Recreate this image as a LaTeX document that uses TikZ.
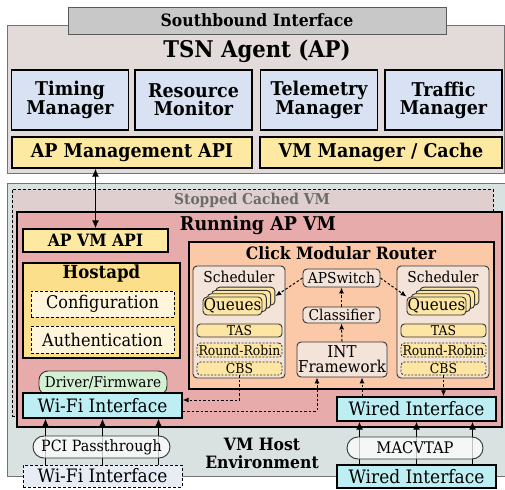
\documentclass[tikz,border=0pt]{standalone}
\usepackage{fontspec}
\setmainfont[FakeStretch=0.92]{DejaVu Serif}
\usetikzlibrary{positioning}
\usetikzlibrary{arrows.meta}
\usetikzlibrary{calc}

\definecolor{agentbg}{HTML}{E3DADA}
\definecolor{southgray}{HTML}{C8C8C8}
\definecolor{mgrblue}{HTML}{D8E2F3}
\definecolor{apiyellow}{HTML}{FDE9A2}
\definecolor{hostbg}{HTML}{DAE1E1}
\definecolor{stoppedbg}{HTML}{E0CFCF}
\definecolor{runningbg}{HTML}{E7ABAB}
\definecolor{hostapdyellow}{HTML}{FCDF8A}
\definecolor{configbg}{HTML}{FEF5DA}
\definecolor{clickbg}{HTML}{FBC9A8}
\definecolor{schedbg}{HTML}{F4E3D9}
\definecolor{queueyellow}{HTML}{FDE6A3}
\definecolor{ifcyan}{HTML}{BDEEF3}
\definecolor{drvgreen}{HTML}{D4F0D4}
\definecolor{wifihwbg}{HTML}{E8ECF4}

\newcommand{\pts}[2]{\fontsize{#1}{#2}\selectfont}

\tikzset{
  every node/.style={inner sep=0pt, align=center},
  box/.style={draw, line width=1.3pt},
  frame/.style={draw=black!55, line width=0.9pt},
  soft/.style={draw=black!80, line width=0.9pt, rounded corners=4pt},
  pill/.style={soft, rounded corners=9pt},
  dashbox/.style={draw, line width=1pt, dash pattern=on 3pt off 2pt},
  mgr/.style={box, fill=mgrblue, minimum width=117, minimum height=60,
              font=\bfseries\pts{19}{18}},
  api/.style={box, fill=apiyellow, minimum height=31, font=\bfseries\pts{19}{19}},
  iface/.style={box, fill=ifcyan, minimum width=159, font=\pts{18.5}{18}},
  queue/.style={soft, fill=queueyellow, minimum width=59, minimum height=18,
                font=\pts{16.5}{16}},
  sched/.style={soft, rounded corners=3.5pt, fill=queueyellow, minimum width=85,
                font=\pts{13.5}{13}},
  elem/.style={soft, fill=schedbg, minimum width=77, font=\pts{15}{15}},
  up/.style={line width=1.3pt, -{Latex[length=8pt,width=7pt]}},
  flow/.style={line width=1pt, dash pattern=on 2.5pt off 2pt,
               -{Latex[length=6pt,width=5pt]}},
}

\begin{document}
\begin{tikzpicture}[x=1pt,y=-1pt]
\useasboundingbox (0,0) rectangle (505,489);

% TSN agent running on the AP
\node[frame, fill=agentbg, minimum width=497, minimum height=148] (agent) at (255.5,99) {};
\node[draw=black!65, line width=0.9pt, fill=southgray, minimum width=378, minimum height=27,
      font=\bfseries\pts{17}{17}] (south) at (257,20.5) {Southbound Interface};
\node[font=\bfseries\pts{23}{23}] (agenttitle) at (257,51) {TSN Agent (AP)};

\node[mgr] (timing)    at (70,100)    {Timing\\Manager};
\node[mgr] (resource)  at (193.5,100) {Resource\\Monitor};
\node[mgr] (telemetry) at (319,100)   {Telemetry\\Manager};
\node[mgr] (traffic)   at (443.5,100) {Traffic\\Manager};

\node[api, minimum width=240] (apmgmt) at (132,152.5) {AP Management API};
\node[api, minimum width=242] (vmmgr)  at (381,152.5) {VM Manager / Cache};

% host, cached VM and running VM
\node[frame, fill=hostbg, minimum width=499, minimum height=293] (host) at (256.5,329.5) {};
\node[dashbox, fill=stoppedbg, minimum width=481, minimum height=227] (stopped) at (252.5,302.5) {};
\node[text=black!58, font=\bfseries\pts{15}{15}] (stoppedtitle) at (252,200) {Stopped Cached VM};
\node[box, fill=runningbg, minimum width=485, minimum height=215] (running) at (259.5,319.5) {};
\node[font=\bfseries\pts{19}{19}] (runningtitle) at (258,225) {Running AP VM};

\node[api, minimum width=145, minimum height=23, font=\bfseries\pts{17}{17}] (apvmapi) at (95.5,240.5) {AP VM API};
\draw[line width=1.3pt, {Latex[length=8pt,width=7pt]}-{Latex[length=8pt,width=7pt]}]
  (apvmapi.north |- apmgmt.south) -- (apvmapi.north);

% hostapd
\node[box, fill=hostapdyellow, minimum width=157, minimum height=95] (hostapd) at (101.5,310.5) {};
\node[font=\bfseries\pts{18}{18}] (hostapdtitle) at (101.5,274) {Hostapd};
\node[dashbox, fill=configbg, minimum width=143, minimum height=26, font=\pts{17.5}{17}] (config) at (102.5,304) {Configuration};
\node[dashbox, fill=configbg, minimum width=143, minimum height=27, font=\pts{17.5}{17}] (auth) at (102.5,339.5) {Authentication};

% click modular router
\node[box, fill=clickbg, minimum width=305, minimum height=147] (click) at (341.5,315.5) {};
\node[font=\bfseries\pts{17}{17}] (clicktitle) at (341,253) {Click Modular Router};

\node[soft, fill=schedbg, minimum width=92, minimum height=112] (schedL) at (239,322) {};
\node[font=\pts{15}{15}] (schedLtitle) at (239,277) {Scheduler};
\foreach \k in {3,2,1} {
  \node[queue] (qL\k) at ({232.5+4.3*\k},{306-3.3*\k}) {};
}
\node[queue] (qL) at (232.5,306) {Queues};
\node[sched, minimum height=13] (tasL) at (239.5,330.5) {TAS};
\node[sched, dash pattern=on 2pt off 1.5pt, minimum height=14] (rrL) at (239.5,350) {Round-Robin};
\node[sched, dash pattern=on 2pt off 1.5pt, minimum height=13] (cbsL) at (239.5,368.5) {CBS};

\node[soft, fill=schedbg, minimum width=92, minimum height=112] (schedR) at (443,322) {};
\node[font=\pts{15}{15}] (schedRtitle) at (443,277) {Scheduler};
\foreach \k in {3,2,1} {
  \node[queue] (qR\k) at ({436.5+4.3*\k},{306-3.3*\k}) {};
}
\node[queue] (qR) at (436.5,306) {Queues};
\node[sched, minimum height=13] (tasR) at (443.5,330.5) {TAS};
\node[sched, dash pattern=on 2pt off 1.5pt, minimum height=14] (rrR) at (443.5,350) {Round-Robin};
\node[sched, dash pattern=on 2pt off 1.5pt, minimum height=13] (cbsR) at (443.5,368.5) {CBS};

\node[elem, minimum height=18] (apswitch) at (341.5,278) {APSwitch};
\node[elem, minimum height=16] (classifier) at (341.5,315) {Classifier};
\node[elem, minimum width=90, minimum height=35, font=\pts{16.3}{15}] (int) at (342,359.5) {INT\\Framework};

% interfaces inside the VM
\node[pill, fill=drvgreen, minimum width=128, minimum height=24, font=\pts{14.8}{14}] (driver) at (103,383) {Driver/Firmware};
\node[iface, minimum height=25] (wifivm) at (102.5,405.5) {Wi-Fi Interface};
\node[iface, minimum height=24] (wiredvm) at (416.5,409) {Wired Interface};

% data paths
\draw[flow] (int.north) -- (classifier.south);
\draw[flow] (classifier.north) -- (apswitch.south);
\draw[flow] (apswitch.west) -- (qL3.east);
\draw[flow] (apswitch.east) -- (qR.north west);
\draw[flow] (cbsL.south) |- ([yshift=5.5pt]wifivm.east);
\draw[flow] ([yshift=-5.5pt]wifivm.east) -| ([xshift=-25pt]int.south);
\draw[flow] ([xshift=-54.5pt]wiredvm.north) -- ([xshift=-54.5pt]wiredvm.north |- int.south);
\draw[flow] (cbsR.south) -- (cbsR.south |- wiredvm.north);

% physical interfaces on the host
\node[dashbox, fill=wifihwbg, minimum width=159, minimum height=22, font=\pts{18.5}{18}] (wifihw) at (102.5,476) {Wi-Fi Interface};
\node[iface, minimum height=23] (wiredhw) at (416.5,476.5) {Wired Interface};
\foreach \dx in {-57,0,56} {
  \draw[up] ([xshift=\dx pt]wifihw.north) -- ([xshift=\dx pt]wifihw.north |- wifivm.south);
  \draw[up] ([xshift=\dx pt]wiredhw.north) -- ([xshift=\dx pt]wiredhw.north |- wiredvm.south);
}
\node[pill, rounded corners=11pt, fill=white, fill opacity=0.75, text opacity=1,
      minimum width=137, minimum height=22, font=\pts{15.5}{15}] (pci) at (101.5,447) {PCI Passthrough};
\node[pill, rounded corners=11pt, fill=white, fill opacity=0.75, text opacity=1,
      minimum width=136, minimum height=22, font=\pts{16}{16}] (macvtap) at (415,448) {MACVTAP};
\node[font=\bfseries\pts{17}{18}] (hosttitle) at (262,453) {VM Host\\Environment};

\end{tikzpicture}
\end{document}
